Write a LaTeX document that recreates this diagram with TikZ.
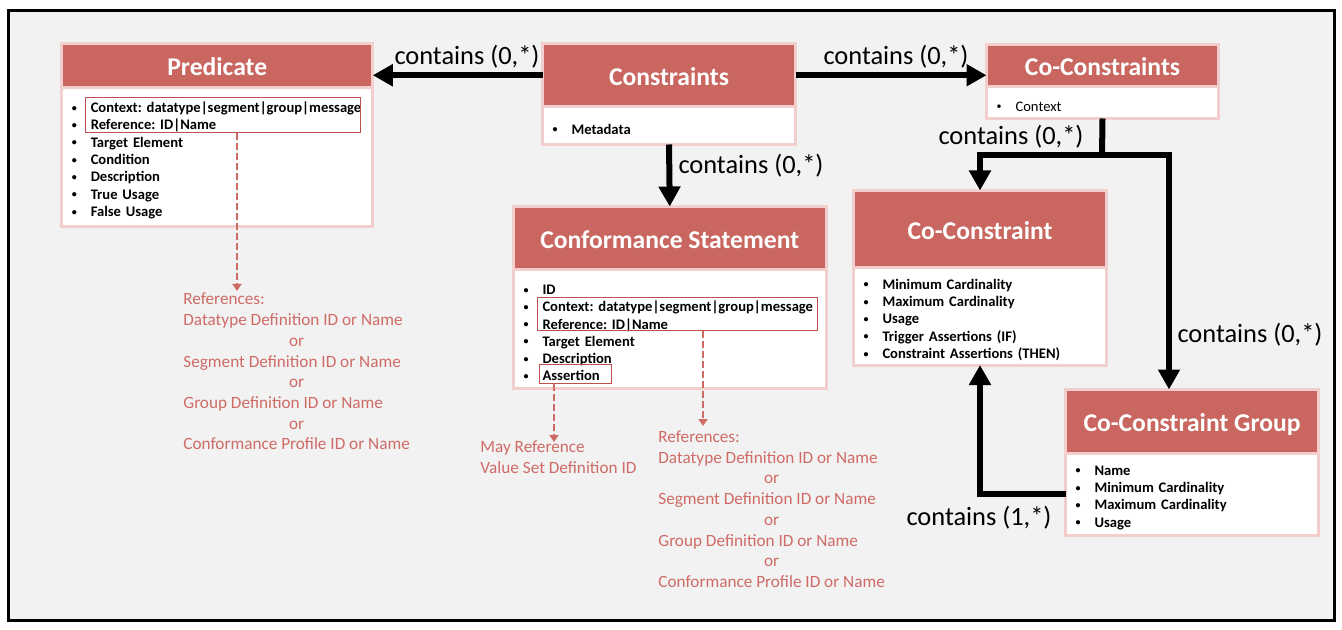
\documentclass[tikz,border=0pt]{standalone}
\usepackage{fontspec}
\setmainfont{Carlito}
\usetikzlibrary{arrows.meta,positioning}
\frenchspacing

\definecolor{hdrred}{HTML}{C96660}
\definecolor{boxpink}{HTML}{F2CFCD}
\definecolor{refred}{HTML}{CF6B66}
\definecolor{markred}{HTML}{C0504D}
\definecolor{canvas}{HTML}{F2F2F2}
\newcommand{\itm}[1]{\mbox{\makebox[9.5pt][l]{\raisebox{0.7pt}{\fontsize{5}{5}\selectfont\textbullet}}#1}}

\begin{document}
\begin{tikzpicture}[x=0.5pt,y=-0.5pt,
  hdr/.style={draw=boxpink,line width=1.5pt,fill=hdrred,text=white,outer sep=0pt,inner sep=0pt,text height=10pt,text depth=0pt,font=\fontsize{12.8}{14}\selectfont\bfseries},
  body/.style={draw=boxpink,line width=1.5pt,fill=white,outer sep=0pt,inner xsep=5pt,inner ysep=0pt,align=left,text width=#1,execute at begin node={\rule{0pt}{8.5pt}},font=\fontsize{7.3}{8.65}\selectfont\bfseries},
  hlbox/.style={draw=markred,line width=0.5pt,inner sep=0pt,anchor=north west},
  conn/.style={line width=3pt,-{Triangle[width=10.5pt,length=10pt]}},
  refarrow/.style={draw=refred,line width=1.25pt,dash pattern=on 3.5pt off 1.5pt,-{Triangle[width=4.5pt,length=3.5pt]}},
  lbl/.style={font=\fontsize{13.2}{15}\selectfont},
  reftext/.style={text=refred,inner sep=0pt,anchor=north west,font=\fontsize{8.6}{10.36}\selectfont}]
\useasboundingbox (0,0) rectangle (1342,630);
\draw[line width=1.5pt,fill=canvas] (8,11) rectangle (1334,620);

% boxes
\node[hdr,minimum width=155.5pt,minimum height=22pt] (predH) at (217.25,65.75) {Predicate};
\node[body=145.5pt,minimum height=69.5pt,below=0pt of predH] (predB) {\itm{Context: datatype|segment|group|message}\\\itm{Reference: ID|Name}\\\itm{Target Element}\\\itm{Condition}\\\itm{Description}\\\itm{True Usage}\\\itm{False Usage}};
\node[hdr,minimum width=126.5pt,minimum height=31.75pt] (consH) at (669,75.25) {Constraints};
\node[body=116.5pt,minimum height=18.75pt,below=0pt of consH] (consB) {\itm{Metadata}};
\node[hdr,minimum width=116pt,minimum height=21.25pt] (ccsH) at (1102.5,65.75) {Co-Constraints};
\node[body=106pt,minimum height=15.75pt,below=0pt of ccsH,font=\fontsize{7.3}{8.65}\selectfont] (ccsB) {\itm{Context}};
\node[hdr,minimum width=156.25pt,minimum height=31.75pt] (confH) at (669.75,238.25) {Conformance Statement};
\node[body=146.25pt,minimum height=59.25pt,below=0pt of confH] (confB) {\itm{ID}\\\itm{Context: datatype|segment|group|message}\\\itm{Reference: ID|Name}\\\itm{Target Element}\\\itm{Description}\\\itm{Assertion}};
\node[hdr,minimum width=126.5pt,minimum height=38.75pt] (ccH) at (980,229.25) {Co-Constraint};
\node[body=116.5pt,minimum height=48.5pt,below=0pt of ccH] (ccB) {\itm{Minimum Cardinality}\\\itm{Maximum Cardinality}\\\itm{Usage}\\\itm{Trigger Assertions (IF)}\\\itm{Constraint Assertions (THEN)}};
\node[hdr,minimum width=126.5pt,minimum height=31.75pt] (grpH) at (1192,421.25) {Co-Constraint Group};
\node[body=116.5pt,minimum height=41pt,below=0pt of grpH] (grpB) {\itm{Name}\\\itm{Minimum Cardinality}\\\itm{Maximum Cardinality}\\\itm{Usage}};

% marked fields
\node[hlbox,minimum width=137.5pt,minimum height=17.5pt] (predRef) at (85,97) {};
\node[hlbox,minimum width=140pt,minimum height=16.5pt] (confRef) at (537,297) {};
\node[hlbox,minimum width=36pt,minimum height=9.5pt] (confAss) at (539,364) {};

% containment
\coordinate (split) at (1102,155);
\draw[conn] (consH.west) -- (consH.west -| predH.east);
\draw[conn] (consH.east) -- (consH.east -| ccsH.west);
\draw[conn] (consB.south) -- (confH.north);
\draw[line width=3pt] (ccsB.south) -- (split);
\draw[conn] (split) -| (ccH.north);
\draw[conn] (split) -| ([xshift=-11.5pt]grpH.north);
\draw[conn] (grpB.west) -| (ccB.south);
\node[lbl] (lblPred) at (467,57) {contains (0,*)};
\node[lbl] (lblCcs) at (896,57) {contains (0,*)};
\node[lbl] (lblConf) at (751,166) {contains (0,*)};
\node[lbl] (lblCc) at (1011,137) {contains (0,*)};
\node[lbl] (lblGrp) at (1250,335) {contains (0,*)};
\node[lbl] (lblBack) at (979,518) {contains (1,*)};

% references
\node[reftext] (predRefs) at (183,290) {\begin{tabular}{@{}l@{}}References:\\Datatype Definition ID or Name\\\multicolumn{1}{@{}c@{}}{or}\\Segment Definition ID or Name\\\multicolumn{1}{@{}c@{}}{or}\\Group Definition ID or Name\\\multicolumn{1}{@{}c@{}}{or}\\Conformance Profile ID or Name\end{tabular}};
\node[reftext] (confRefs) at (658,427.5) {\begin{tabular}{@{}l@{}}References:\\Datatype Definition ID or Name\\\multicolumn{1}{@{}c@{}}{or}\\Segment Definition ID or Name\\\multicolumn{1}{@{}c@{}}{or}\\Group Definition ID or Name\\\multicolumn{1}{@{}c@{}}{or}\\Conformance Profile ID or Name\end{tabular}};
\node[reftext] (assRefs) at (480,437.5) {\begin{tabular}{@{}l@{}}May Reference\\Value Set Definition ID\end{tabular}};
\coordinate (predTip) at (237,291);
\coordinate (confTip) at (703,426);
\coordinate (assTip) at (554,442);
\draw[refarrow] (predTip |- predRef.south) -- (predTip);
\draw[refarrow] (confTip |- confRef.south) -- (confTip);
\draw[refarrow] (assTip |- confAss.south) -- (assTip);
\end{tikzpicture}
\end{document}
